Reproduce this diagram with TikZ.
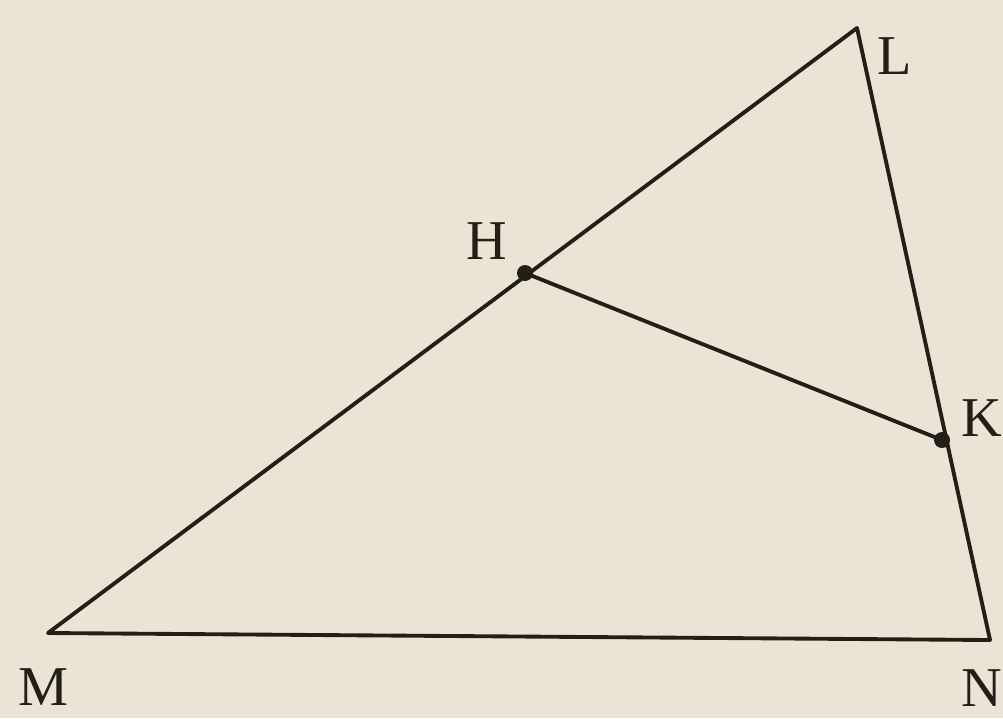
\documentclass[tikz,border=0pt]{standalone}
\usepackage{fontspec}
\setmainfont{Liberation Serif}
\definecolor{paper}{HTML}{EAE4D6}
\definecolor{ink}{HTML}{221E18}
\begin{document}
\begin{tikzpicture}[x=0.02cm,y=-0.02cm,
  edge/.style={draw=ink,line width=2.2pt,line join=round},
  pt/.style={circle,fill=ink,inner sep=0pt,minimum size=0.32cm},
  lbl/.style={text=ink,font=\fontsize{32}{36}\selectfont,inner sep=0pt}]
\fill[paper] (0,0) rectangle (1003,718);
\useasboundingbox (0,0) rectangle (1003,718);
\coordinate (M) at (48,633);
\coordinate (N) at (990,640);
\coordinate (L) at (857,28);
\coordinate (H) at (525,273);
\coordinate (K) at (942,440);
\draw[edge] (M) -- (N) -- (L) -- cycle;
\draw[edge] (H) -- (K);
\node[pt] (Hd) at (H) {};
\node[pt] (Kd) at (K) {};
\node[lbl] (lM) at (43,687) {M};
\node[lbl] (lN) at (982,688) {N};
\node[lbl] (lL) at (895,56) {L};
\node[lbl] (lH) at (487,241) {H};
\node[lbl] (lK) at (982,418) {K};
\end{tikzpicture}
\end{document}
